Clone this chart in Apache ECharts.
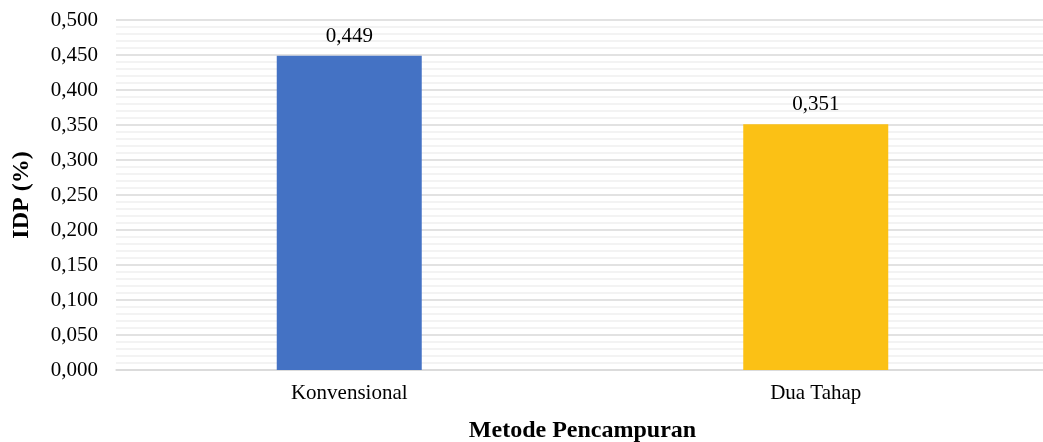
<!DOCTYPE html>
<html><head><meta charset="utf-8">
<script src="https://cdn.jsdelivr.net/npm/echarts@6/dist/echarts.min.js"></script>
<style>html,body{margin:0;padding:0;background:#fff;overflow:hidden}#c{width:1043px;height:442px}</style>
</head><body><div id="c"></div>
<script>
const categories = ['Konvensional', 'Dua Tahap'];
const values = [0.449, 0.351];
const barColors = ['#4472C4', '#FBC115'];
const yMin = 0, yMax = 0.5, yInterval = 0.05;
const fmt = v => v.toFixed(3).replace('.', ',');
const chart = echarts.init(document.getElementById('c'));
chart.setOption({
  animation: false,
  textStyle: { fontFamily: 'Liberation Serif' },
  grid: { left: 116, width: 933, top: 20, height: 350, outerBoundsMode: 'none', containLabel: false },
  xAxis: {
    type: 'category', data: categories,
    name: 'Metode Pencampuran', nameLocation: 'middle', nameGap: 49,
    nameTextStyle: { fontFamily: 'Liberation Serif', fontWeight: 'bold', fontSize: 24, color: '#000' },
    axisLine: { lineStyle: { color: '#d9d9d9', width: 1.5 } },
    axisTick: { show: false },
    axisLabel: { fontFamily: 'Liberation Serif', fontSize: 21, color: '#000', margin: 13 }
  },
  yAxis: {
    type: 'value', min: yMin, max: yMax, interval: yInterval,
    name: 'IDP (%)', nameLocation: 'middle', nameGap: 82,
    nameTextStyle: { fontFamily: 'Liberation Serif', fontWeight: 'bold', fontSize: 24, color: '#000' },
    axisLabel: { formatter: fmt, fontFamily: 'Liberation Serif', fontSize: 21, color: '#000', margin: 18 },
    axisLine: { show: false }, axisTick: { show: false },
    splitLine: { lineStyle: { color: '#d9d9d9', width: 1.5 } },
    minorTick: { show: false, splitNumber: 5 },
    minorSplitLine: { show: true, lineStyle: { color: '#efefef', width: 1.5 } }
  },
  series: [{
    type: 'bar', barWidth: 145,
    data: values.map((v, i) => ({ value: v, itemStyle: { color: barColors[i] } })),
    label: { show: true, position: 'top', distance: 9, formatter: p => fmt(p.value), fontFamily: 'Liberation Serif', fontSize: 21, color: '#000' }
  }]
});
</script></body></html>
